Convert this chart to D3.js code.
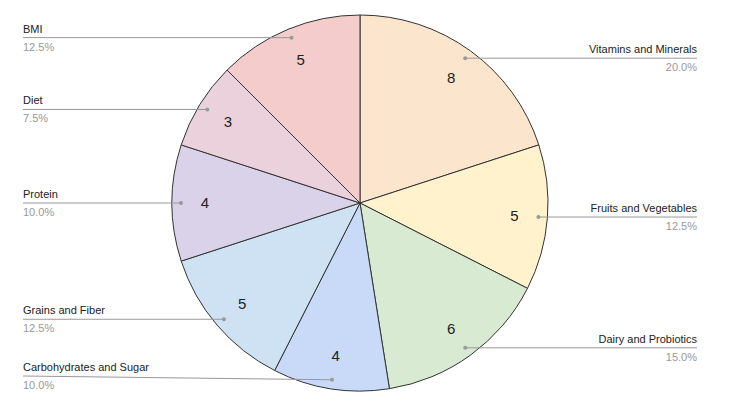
<!DOCTYPE html>
<html>
<head>
<meta charset="utf-8">
<script src="https://cdn.jsdelivr.net/npm/d3@7"></script>
<style>
  body { margin: 0; background: #fff; }
  svg { font-family: Arial, "Liberation Sans", sans-serif; }
</style>
</head>
<body>
<svg width="750" height="411"></svg>
<script>
// Data
var categories = ["Vitamins and Minerals", "Fruits and Vegetables", "Dairy and Probiotics",
                  "Carbohydrates and Sugar", "Grains and Fiber", "Protein", "Diet", "BMI"];
var counts = [8, 5, 6, 4, 5, 4, 3, 5];
var colors = ["#fce5cd", "#fff2cc", "#d9ead3", "#c9daf8", "#cfe2f3", "#d9d2e9", "#ead1dc", "#f4cccc"];

var svg = d3.select("svg"),
    width = +svg.attr("width"),
    height = +svg.attr("height"),
    cx = 360, cy = 203,
    radius = 188;

var total = d3.sum(counts);
var fmtPct = d3.format(".1%");

var rows = categories.map((c, i) => ({ name: c, value: counts[i], color: colors[i] }));

var pie = d3.pie().sort(null).value(d => d.value);
var arcs = pie(rows);

var arc = d3.arc().innerRadius(0).outerRadius(radius);
var valueArc = d3.arc().innerRadius(155).outerRadius(155);
var dotArc = d3.arc().innerRadius(179).outerRadius(179);

var g = svg.append("g").attr("transform", `translate(${cx},${cy})`);

// slices
g.append("g")
    .selectAll("path")
    .data(arcs)
    .join("path")
        .attr("d", arc)
        .attr("fill", d => d.data.color)
        .attr("stroke", "#333")
        .attr("stroke-width", 1);

// value labels inside slices
g.append("g")
    .selectAll("text")
    .data(arcs)
    .join("text")
        .attr("transform", d => `translate(${valueArc.centroid(d)})`)
        .attr("text-anchor", "middle")
        .attr("dy", "0.36em")
        .attr("font-size", 15)
        .attr("fill", "#222")
        .text(d => d.data.value);

// leader lines + side labels
var leftX = 23, rightX = 697, maxLineY = height - 35;

var lab = svg.append("g")
    .selectAll("g")
    .data(arcs)
    .join("g")
        .each(function(d) {
            var p = dotArc.centroid(d);
            d.dot = [cx + p[0], cy + p[1]];
            d.right = p[0] > 0;
            d.lineY = Math.min(d.dot[1], maxLineY);
        });

lab.append("line")
    .attr("x1", d => d.dot[0])
    .attr("y1", d => d.dot[1])
    .attr("x2", d => d.right ? rightX : leftX)
    .attr("y2", d => d.lineY)
    .attr("stroke", "#999")
    .attr("stroke-width", 1);

lab.append("circle")
    .attr("cx", d => d.dot[0])
    .attr("cy", d => d.dot[1])
    .attr("r", 2)
    .attr("fill", "#999");

lab.append("text")
    .attr("x", d => d.right ? rightX : leftX)
    .attr("y", d => d.lineY - 5)
    .attr("text-anchor", d => d.right ? "end" : "start")
    .attr("font-size", 11)
    .attr("fill", "#222")
    .text(d => d.data.name);

lab.append("text")
    .attr("x", d => d.right ? rightX : leftX)
    .attr("y", d => d.lineY + 13)
    .attr("text-anchor", d => d.right ? "end" : "start")
    .attr("font-size", 11)
    .attr("fill", "#999")
    .text(d => fmtPct(d.data.value / total));
</script>
</body>
</html>
